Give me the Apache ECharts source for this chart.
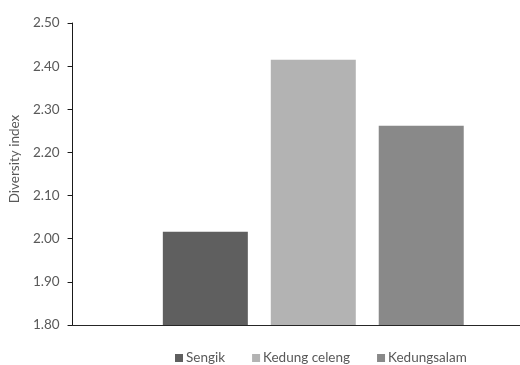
<!DOCTYPE html>
<html>
<head>
<meta charset="utf-8">
<script src="https://cdn.jsdelivr.net/npm/echarts@6/dist/echarts.min.js"></script>
<style>
  html, body { margin: 0; padding: 0; background: #fff; overflow: hidden; width: 520px; height: 365px; }
  /* the plot area runs a little past the right edge, so the canvas is wider than the window */
  #chart { width: 555px; height: 365px; }
</style>
</head>
<body>
<div id="chart"></div>
<script>
// Sites and their diversity index values
const sites = ['Sengik', 'Kedung celeng', 'Kedungsalam'];
const diversityValues = [2.016, 2.415, 2.262];
const siteColors = ['#5f5f5f', '#b3b3b3', '#898989'];
const yTicks = { min: 1.8, max: 2.5, step: 0.1 };

const FONT = 'Lato';
const TEXT = '#595959';
const FS = 13.5;

const chart = echarts.init(document.getElementById('chart'));

const series = sites.map((name, i) => ({
  name: name,
  type: 'bar',
  data: [diversityValues[i]],
  barWidth: 85,
  barGap: '27%',
  itemStyle: { color: siteColors[i] }
}));

chart.setOption({
  animation: false,
  textStyle: { fontFamily: FONT },
  grid: { left: 69, right: 1, top: 23, bottom: 40, containLabel: false },
  legend: {
    bottom: 0,
    left: 175,
    padding: 0,
    itemWidth: 8,
    itemHeight: 8,
    itemGap: 27,
    icon: 'rect',
    textStyle: { color: TEXT, fontSize: FS, fontFamily: FONT, padding: [0, 0, 0, -2] },
    data: sites
  },
  xAxis: {
    type: 'category',
    data: [''],
    axisLine: { lineStyle: { color: '#262626', width: 1 } },
    axisTick: { show: false },
    axisLabel: { show: false }
  },
  yAxis: {
    type: 'value',
    min: yTicks.min,
    max: yTicks.max,
    interval: yTicks.step,
    name: 'Diversity index',
    nameLocation: 'middle',
    nameGap: 43,
    nameTextStyle: { color: TEXT, fontSize: FS, fontFamily: FONT, padding: [0, 0, 0, 30] },
    axisLine: { show: true, lineStyle: { color: '#1a1a1a', width: 1 } },
    axisTick: { show: true, length: 5, lineStyle: { color: '#1a1a1a' } },
    axisLabel: {
      color: TEXT,
      fontSize: FS,
      margin: 13,
      formatter: v => v.toFixed(2)
    },
    splitLine: { show: false }
  },
  series: series
});
</script>
</body>
</html>
